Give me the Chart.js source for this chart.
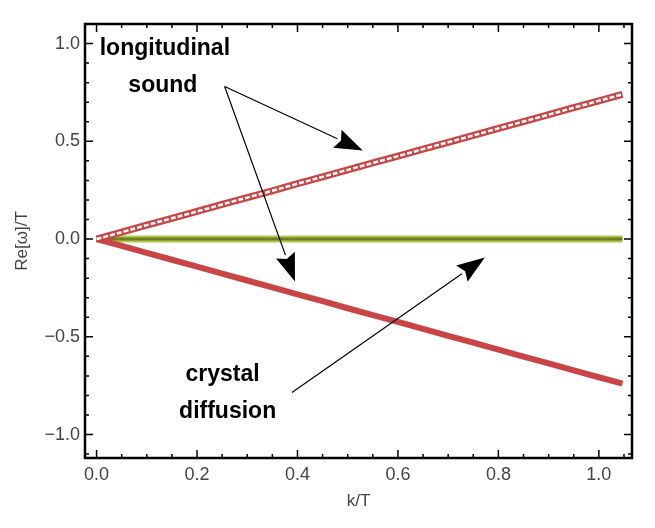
<!DOCTYPE html>
<html>
<head>
<meta charset="utf-8">
<script src="https://cdn.jsdelivr.net/npm/chart.js@4"></script>
<style>
  html, body { margin: 0; padding: 0; background: #fff; }
  #wrap { width: 655px; height: 528px; }
</style>
</head>
<body>
<div id="wrap"><canvas id="c" width="655" height="528"></canvas></div>
<script>
// ---- data ----
const kValues   = [0, 0.05, 0.10, 0.15, 0.20, 0.25, 0.30, 0.35, 0.40, 0.45, 0.50,
                   0.55, 0.60, 0.65, 0.70, 0.75, 0.80, 0.85, 0.90, 0.95, 1.00, 1.047];
const soundUp   = [0, 0.035, 0.071, 0.106, 0.141, 0.177, 0.212, 0.247, 0.283, 0.318, 0.354,
                   0.389, 0.424, 0.460, 0.495, 0.530, 0.566, 0.601, 0.636, 0.672, 0.707, 0.740];
const soundDown = [0, -0.035, -0.071, -0.106, -0.141, -0.177, -0.212, -0.247, -0.283, -0.318, -0.354,
                   -0.389, -0.424, -0.460, -0.495, -0.530, -0.566, -0.601, -0.636, -0.672, -0.707, -0.740];
const diffusion = [0, 0, 0, 0, 0, 0, 0, 0, 0, 0, 0,
                   0, 0, 0, 0, 0, 0, 0, 0, 0, 0, 0];

const xTicks = [0, 0.2, 0.4, 0.6, 0.8, 1.0];
const yTicks = [-1.0, -0.5, 0, 0.5, 1.0];

// labels and arrows, in data coordinates
const labels = [
  { text: 'longitudinal', x: 0.136, y: 0.975 },
  { text: 'sound',        x: 0.132, y: 0.785 },
  { text: 'crystal',      x: 0.251, y: -0.695 },
  { text: 'diffusion',    x: 0.261, y: -0.885 },
];
const arrows = [
  { from: [0.255, 0.780], to: [0.530, 0.453] },
  { from: [0.255, 0.780], to: [0.395, -0.217] },
  { from: [0.389, -0.785], to: [0.773, -0.095] },
];

const RED = '#c94444';
const toXY = ys => kValues.map((k, i) => ({ x: k, y: ys[i] }));

// frame with inward ticks on all four sides
const framePlugin = {
  id: 'frame',
  afterDraw(chart) {
    const { ctx, chartArea: a, scales: { x, y } } = chart;
    ctx.save();
    ctx.strokeStyle = '#000';
    ctx.lineWidth = 1.5;
    ctx.beginPath();
    for (let i = 0; i <= 21; i++) {
      const v = i * 0.05, px = x.getPixelForValue(v);
      const len = (i % 4 === 0) ? 8 : 4;
      ctx.moveTo(px, a.bottom); ctx.lineTo(px, a.bottom - len);
      ctx.moveTo(px, a.top);    ctx.lineTo(px, a.top + len);
    }
    for (let i = -11; i <= 11; i++) {
      const v = i * 0.1, py = y.getPixelForValue(v);
      const len = (i % 5 === 0) ? 8 : 4;
      ctx.moveTo(a.left, py);  ctx.lineTo(a.left + len, py);
      ctx.moveTo(a.right, py); ctx.lineTo(a.right - len, py);
    }
    ctx.stroke();
    ctx.lineWidth = 2.5;
    ctx.strokeRect(a.left, a.top, a.right - a.left, a.bottom - a.top);
    ctx.restore();
  }
};

const notePlugin = {
  id: 'notes',
  afterDatasetsDraw(chart) {
    const { ctx, scales: { x, y } } = chart;
    ctx.save();
    ctx.fillStyle = '#000';
    ctx.font = 'bold 23px "Liberation Sans", Arial, sans-serif';
    ctx.textAlign = 'center';
    ctx.textBaseline = 'middle';
    labels.forEach(l => ctx.fillText(l.text, x.getPixelForValue(l.x), y.getPixelForValue(l.y)));

    ctx.strokeStyle = '#000';
    ctx.lineWidth = 1.2;
    arrows.forEach(ar => {
      const x0 = x.getPixelForValue(ar.from[0]), y0 = y.getPixelForValue(ar.from[1]);
      const x1 = x.getPixelForValue(ar.to[0]),   y1 = y.getPixelForValue(ar.to[1]);
      const ang = Math.atan2(y1 - y0, x1 - x0);
      const hl = 28, hw = 10;
      const bx = x1 - hl * Math.cos(ang), by = y1 - hl * Math.sin(ang);
      ctx.beginPath();
      ctx.moveTo(x0, y0); ctx.lineTo(bx, by);
      ctx.stroke();
      ctx.beginPath();
      ctx.moveTo(x1, y1);
      ctx.lineTo(bx + hw * Math.sin(ang), by - hw * Math.cos(ang));
      ctx.lineTo(bx + 4 * Math.cos(ang), by + 4 * Math.sin(ang));
      ctx.lineTo(bx - hw * Math.sin(ang), by + hw * Math.cos(ang));
      ctx.closePath();
      ctx.fill();
    });
    ctx.restore();
  }
};

const tickFont = { family: '"Liberation Sans", Arial, sans-serif', size: 18 };
const fmt = v => (v < 0 ? '\u2212' : '') + Math.abs(v).toFixed(1);

// lower "order" is drawn on top
new Chart(document.getElementById('c'), {
  type: 'scatter',
  data: {
    datasets: [
      { data: toXY(diffusion), order: 5, showLine: true, borderColor: '#b4c64e', borderWidth: 7, pointRadius: 0 },
      { data: toXY(diffusion), order: 4, showLine: true, borderColor: '#6e7f1f', borderWidth: 3, pointRadius: 0 },
      { data: toXY(soundDown), order: 3, showLine: true, borderColor: RED, borderWidth: 6, pointRadius: 0 },
      { data: toXY(soundUp),   order: 2, showLine: true, borderColor: RED, borderWidth: 7, pointRadius: 0 },
      { data: toXY(soundUp),   order: 1, showLine: true, borderColor: '#ffffff', borderWidth: 2.5,
        borderDash: [5, 2], pointRadius: 0 },
    ]
  },
  options: {
    responsive: false,
    animation: false,
    layout: { padding: { top: 24, right: 23, left: 0, bottom: 0 } },
    plugins: { legend: { display: false }, tooltip: { enabled: false } },
    scales: {
      x: {
        type: 'linear', min: -0.023, max: 1.066,
        afterBuildTicks: s => { s.ticks = xTicks.map(v => ({ value: v })); },
        afterFit: s => { s.height = 70; },
        grid: { display: false, drawTicks: false },
        border: { display: false },
        ticks: { font: tickFont, color: '#444', padding: 6, maxRotation: 0, callback: fmt },
        title: { display: true, text: 'k/T', font: { ...tickFont, size: 17 }, color: '#444',
                 padding: { top: 0, bottom: 16 } }
      },
      y: {
        type: 'linear', min: -1.12, max: 1.10,
        afterBuildTicks: s => { s.ticks = yTicks.map(v => ({ value: v })); },
        afterFit: s => { s.width = 85; },
        grid: { display: false, drawTicks: false },
        border: { display: false },
        ticks: { font: tickFont, color: '#444', padding: 5, callback: fmt },
        title: { display: true, text: 'Re[ω]/T', font: { ...tickFont, size: 17 }, color: '#444',
                 padding: { top: 12, bottom: 0 } }
      }
    }
  },
  plugins: [framePlugin, notePlugin]
});
</script>
</body>
</html>
